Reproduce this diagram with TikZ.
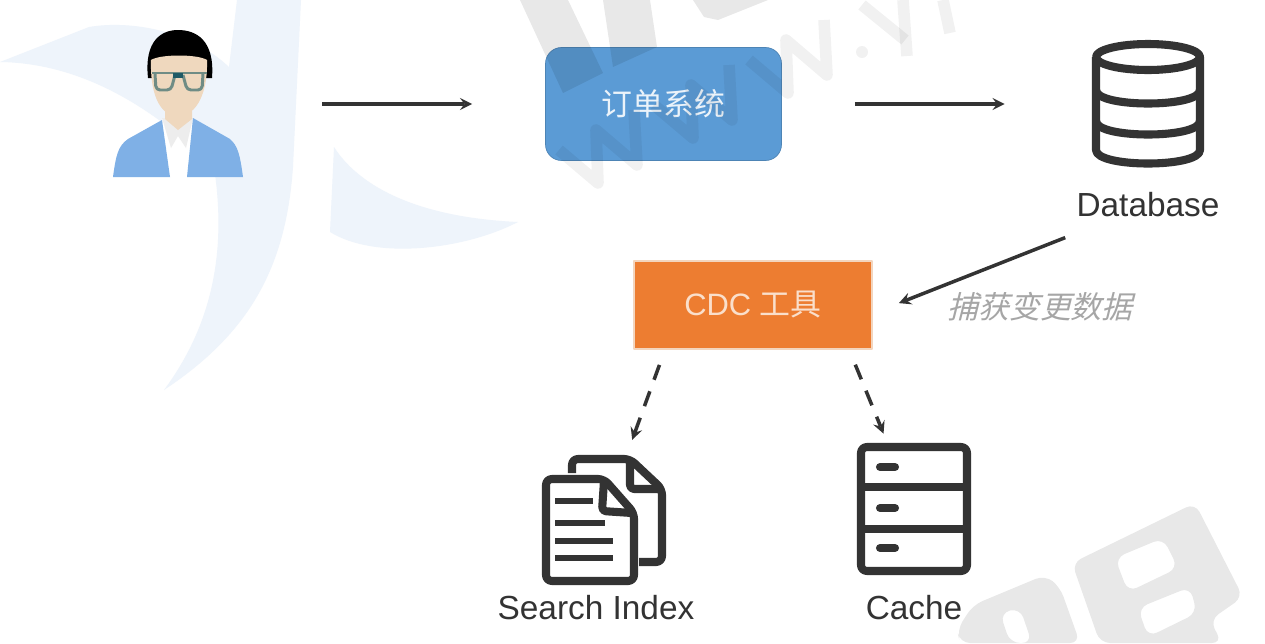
\documentclass[tikz,border=0pt]{standalone}
\usepackage{fontspec}
\setmainfont{Liberation Sans}
\newfontfamily\cjk{Noto Sans CJK SC}
\newfontfamily\cjkslant[FakeSlant=0.25]{Noto Sans CJK SC}
\usetikzlibrary{positioning}
\definecolor{swoosh}{HTML}{EEF4FB}
\definecolor{orderblue}{HTML}{5B9BD5}
\definecolor{cdcorange}{HTML}{ED7D31}
\definecolor{cdcedge}{HTML}{F3D5BE}
\definecolor{ink}{HTML}{333333}
\definecolor{skin}{HTML}{EFD8BE}
\definecolor{jacket}{HTML}{7FB0E6}
\definecolor{frame}{HTML}{6F8C85}
\definecolor{bridge}{HTML}{1F5A66}
\begin{document}
\begin{tikzpicture}[x=0.02cm,y=-0.02cm,line join=round,line cap=butt,>=stealth]
	\tikzset{flow/.style={draw=ink,line width=2pt,->},
		dashflow/.style={flow,dash pattern=on 9pt off 7pt},
		icon/.style={inner sep=0pt,minimum size=0pt},
		iconline/.style={draw=ink,line width=4.6pt},
		thinline/.style={draw=ink,line width=3.2pt},
		caption/.style={text=ink,font=\fontsize{19}{22}\selectfont},
		wmark/.style={black,opacity=.09},
		wstroke/.style={black,opacity=.055,line width=6.6pt}}
	\useasboundingbox (0,0) rectangle (1265,643);
	\fill[white] (0,0) rectangle (1265,643);
	\fill[swoosh] (0,62) .. controls (71,63) and (143,97) .. (214,167)
		.. controls (225,240) and (218,317) .. (164,390)
		.. controls (250,333) and (286,267) .. (293,167)
		-- (301,0) -- (237,0) -- (229,67)
		.. controls (190,30) and (130,20) .. (89,27) -- cycle;
	\fill[swoosh] (334,147) .. controls (357,183) and (411,217) .. (518,222)
		.. controls (464,250) and (375,260) .. (330,232) -- cycle;
	\fill[black] (148,78) .. controls (144,40) and (162,30) .. (178,30)
		.. controls (196,30) and (215,40) .. (212,78) -- cycle;
	\fill[white] (162,118) -- (193,118) -- (187,177) -- (170,177) -- cycle;
	\fill[black!7] (162,118) -- (193,118) -- (186,148) -- (178,136) -- (171,148) -- cycle;
	\fill[jacket] (113,177) .. controls (116,155) and (118,146) .. (128,139)
		-- (162,120) -- (170,177) -- cycle;
	\fill[jacket] (243,177) .. controls (240,155) and (238,146) .. (230,139)
		-- (193,118) -- (187,177) -- cycle;
	\fill[skin] (165,100) -- (192,100) -- (192,119) -- (178,130) -- (165,119) -- cycle;
	\fill[skin] (151,60) .. controls (160,54) and (198,54) .. (207,60)
		.. controls (208,90) and (198,116) .. (178,116)
		.. controls (158,116) and (150,90) .. (151,60) -- cycle;
	\draw[frame,line width=1.7pt] (152,73) -- (207,73);
	\draw[frame,line width=1.7pt,rounded corners=0.08cm] (155,74) -- (156,90) -- (171,90) -- (175,75);
	\draw[frame,line width=1.7pt,rounded corners=0.08cm] (183,75) -- (187,90) -- (202,90) -- (203,74);
	\fill[bridge] (173,73) rectangle (183,78);
	\node[icon] (user) at (178,104) {};
	\node[draw=orderblue!85!black,fill=orderblue,rounded corners=0.32cm,minimum width=4.72cm,minimum height=2.26cm,text=white!88!orderblue,font=\fontsize{17.6}{20}\cjk] (order) at (663.5,104) {订单系统};
	\node[icon] (db) at (1148,104) {};
	\node[caption] (dblabel) at (1148,205) {Database};
	\node[draw=cdcedge,line width=1pt,fill=cdcorange,minimum width=4.76cm,minimum height=1.76cm,text=white!75!cdcorange,font=\fontsize{17.6}{20}\selectfont] (cdc) at (753,305) {CDC {\cjk 工具}};
	\node[icon] (search) at (603,520) {};
	\node[caption] (searchlabel) at (596,608) {Search Index};
	\node[icon] (cache) at (914,508) {};
	\node[caption] (cachelabel) at (914,608) {Cache};
	\node[text=black!35,font=\fontsize{17.6}{20}\cjkslant] (capture) at (1040,307) {捕获变更数据};
	\draw[iconline] (1148,57) ellipse [x radius=52,y radius=13];
	\draw[iconline] (1096,57) -- (1096,150) .. controls (1096,168) and (1200,168) .. (1200,150) -- (1200,57);
	\draw[iconline] (1096,90) .. controls (1096,108) and (1200,108) .. (1200,90);
	\draw[iconline] (1096,121) .. controls (1096,139) and (1200,139) .. (1200,121);
	\draw[iconline] (861,447) [rounded corners=0.12cm] rectangle (967,571);
	\foreach \y in {487,529}
	\draw[iconline] (861,\y)--(967,\y);
	\foreach \y in {467,508,548}
	\draw[iconline,line cap=round] (880,\y)--(895,\y);
	\draw[iconline,rounded corners=0.12cm] (572,473) -- (572,459) -- (630,459) -- (662,489) -- (662,562) -- (639,562);
	\draw[iconline,rounded corners=0.08cm] (630,462) -- (630,489) -- (660,489);
	\draw[iconline,fill=white,rounded corners=0.12cm] (546,479) -- (604,479) -- (634,513) -- (634,581) -- (546,581) -- cycle;
	\draw[iconline,rounded corners=0.08cm] (604,481) -- (602,511) -- (632,513);
	\draw[thinline] (555,501)--(593,501);
	\foreach \xa/\y in {605/523,613/541,613/558}
	\draw[thinline] (555,\y)--(\xa,\y);
	\draw[flow,shorten <=2.88cm,shorten >=1.46cm] (user)--(order.west);
	\draw[flow,shorten <=1.46cm,shorten >=2.86cm] (order.east)--(db);
	\draw[flow,shorten <=1.78cm,shorten >=0.56cm] (dblabel.center)--(cdc.-4);
	\draw[dashflow,shorten <=0.32cm,shorten >=1.7cm] (cdc.207)--(search);
	\draw[dashflow,shorten <=0.32cm,shorten >=1.6cm] (cdc.-25)--(cache);
	\fill[wmark] (520,0) -- (563,93) -- (603,73) -- (568,0) -- cycle;
	\fill[wmark] (603,0) -- (613,67) -- (657,47) -- (650,0) -- cycle;
	\fill[wmark] (693,0) -- (704,17) -- (718,20) -- (768,0) -- cycle;
	\foreach \dx/\dy in {0/0,95/-45,190/-90}
	\draw[wstroke] (559+\dx,150+\dy) -- (598+\dx,183+\dy) -- (596+\dx,130+\dy) -- (637+\dx,165+\dy) -- (634+\dx,110+\dy);
	\fill[wstroke] (862,52) circle [radius=6];
	\draw[wstroke] (862,5) -- (905,40);
	\draw[wstroke] (907,56) -- (903,0);
	\draw[wstroke] (950,33) -- (943,0);
	\fill[wmark,even odd rule,rounded corners=0.2cm] (1072,563) -- (1195,503) -- (1243,597) -- (1210,620) -- (1222,643) -- (1100,643) -- cycle
		(1115,558) -- (1163,538) -- (1178,568) -- (1128,592) -- cycle
		(1138,608) -- (1190,587) -- (1197,613) -- (1148,637) -- cycle;
	\fill[wmark,even odd rule,rounded corners=0.2cm] (957,630) -- (973,605) -- (1045,575) -- (1060,587) -- (1080,643) -- (960,643) -- cycle
		(1000,613) -- (1020,608) -- (1032,643) -- (1010,643) -- cycle;
\end{tikzpicture}
\end{document}
